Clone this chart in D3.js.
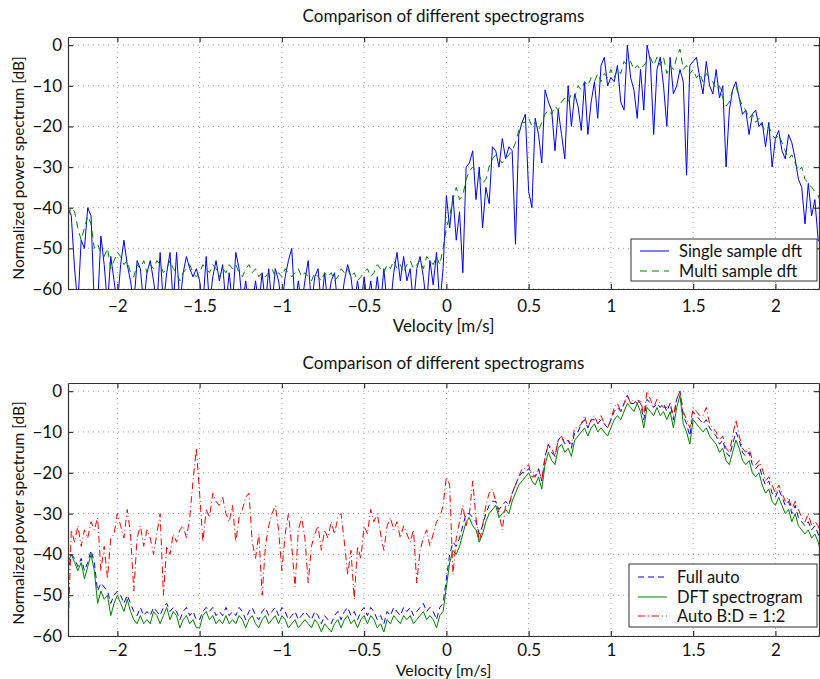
<!DOCTYPE html>
<html>
<head>
<meta charset="utf-8">
<script src="https://cdn.jsdelivr.net/npm/d3@7"></script>
<style>
    body { margin: 0; background: #fff; }
    text { font-family: Lato, "Open Sans", sans-serif; fill: #111; }
</style>
</head>
<body>
<script>
//velocity sampling of every spectrum (m/s)
var vStart = -2.3,
    vStep = 0.02;

//axis ticks
var xTicks = [-2, -1.5, -1, -0.5, 0, 0.5, 1, 1.5, 2];
var yTicks = [0, -10, -20, -30, -40, -50, -60];

//top panel: single sample dft (values under -60 dB leave the axes)
var singleDft = [
    -40,-42,-55,-64,-48,-50,-40,-42,-64,-64,
    -47,-54,-64,-52,-58,-64,-54,-48,-54,-58,
    -64,-53,-55,-64,-56,-53,-58,-64,-51,-64,
    -56,-51,-64,-51,-64,-56,-52,-55,-57,-55,
    -58,-64,-52,-64,-57,-53,-58,-54,-64,-56,
    -64,-51,-55,-64,-58,-64,-64,-58,-64,-56,
    -64,-55,-64,-55,-58,-64,-57,-53,-50,-64,
    -58,-64,-58,-53,-64,-57,-55,-64,-56,-64,
    -58,-56,-64,-64,-58,-54,-57,-64,-58,-64,
    -57,-64,-58,-64,-57,-64,-55,-64,-64,-56,
    -51,-58,-52,-58,-55,-64,-55,-52,-57,-64,
    -53,-59,-51,-64,-55,-37,
    -45,-37,-48,-41,-56,-30,-29,-26,-38,-30,
    -45,-35,-39,-25,-26,-30,-23,-28,-25,-26,
    -49,-22,-19,-17,-36,-40,-18,-22,-29,-11,
    -14,-16,-26,-16,-22,-28,-10,-20,-12,-15,
    -21,-9,-22,-14,-9,-18,-5,-3,-10,-8,
    -9,-5,-14,-16,0,-8,-11,-18,-6,-16,
    0,-4,-22,-6,-3,-10,-20,-3,-12,-10,
    -6,-9,-32,-5,-4,-3,-8,-12,-4,-10,
    -12,-6,-13,-10,-30,-16,-11,-9,-13,-17,
    -16,-22,-17,-16,-20,-19,-25,-19,-30,-23,
    -21,-26,-28,-22,-24,-28,-33,-35,-44,-34,
    -42,-38,-48,-49
];

//top panel: multi sample dft
var multiDft = [
    -42,-40,-41,-45,-48,-45,-42,-44,-50,-49,
    -51,-52,-50,-55,-53,-51,-52,-54,-53,-56,
    -57,-54,-55,-53,-56,-54,-55,-53,-54,-56,
    -55,-53,-55,-56,-58,-56,-55,-54,-56,-57,
    -56,-54,-55,-56,-54,-55,-57,-55,-56,-54,
    -55,-54,-56,-57,-55,-54,-56,-55,-57,-56,
    -57,-56,-55,-57,-56,-57,-55,-56,-57,-56,
    -55,-57,-56,-57,-58,-56,-57,-58,-56,-57,
    -56,-58,-57,-55,-56,-55,-57,-56,-58,-57,
    -56,-55,-57,-56,-54,-55,-56,-54,-55,-53,
    -55,-54,-56,-54,-53,-55,-54,-53,-55,-52,
    -53,-54,-52,-54,-50,-45,
    -42,-38,-35,-38,-37,-33,-31,-30,-31,-32,
    -34,-33,-30,-28,-27,-28,-29,-28,-27,-26,
    -24,-21,-19,-19,-18,-20,-19,-21,-19,-17,
    -16,-17,-15,-16,-14,-13,-14,-12,-13,-10,
    -11,-9,-10,-8,-9,-7,-9,-7,-8,-6,
    -8,-6,-7,-4,-5,-4,-6,-5,-6,-5,
    -4,-3,-5,-3,-5,-3,-7,-5,-6,-3,
    -1,-6,-5,-7,-6,-8,-7,-9,-7,-8,
    -9,-11,-10,-13,-15,-14,-11,-10,-13,-15,
    -16,-18,-17,-19,-18,-20,-21,-20,-22,-23,
    -22,-24,-26,-28,-27,-29,-31,-30,-33,-34,
    -35,-36,-37,-39
];

//bottom panel: full auto
var fullAuto = [
    -45,-40,-41,-43,-41,-44,-42,-39,-42,-49,
    -47,-48,-49,-52,-50,-49,-50,-52,-50,-52,
    -54,-55,-53,-55,-54,-55,-53,-54,-55,-53,
    -52,-54,-53,-54,-56,-54,-53,-55,-54,-56,
    -56,-54,-53,-54,-53,-55,-54,-55,-53,-55,
    -54,-55,-53,-54,-56,-54,-53,-55,-56,-54,
    -53,-55,-54,-53,-55,-53,-54,-56,-55,-54,
    -56,-55,-54,-55,-56,-54,-55,-57,-55,-56,
    -57,-55,-54,-56,-54,-53,-55,-54,-56,-54,
    -53,-55,-53,-54,-56,-55,-57,-54,-55,-53,
    -54,-55,-53,-54,-53,-55,-54,-53,-52,-54,
    -53,-54,-56,-53,-52,-46,
    -40,-37,-38,-36,-33,-30,-30,-31,-32,-35,
    -33,-30,-28,-27,-27,-29,-28,-27,-28,-25,
    -23,-21,-20,-20,-19,-20,-21,-19,-22,-16,
    -13,-15,-16,-12,-11,-13,-12,-14,-10,-10,
    -8,-7,-9,-7,-7,-8,-7,-8,-9,-7,
    -5,-4,-5,-3,-1,-3,-3,-2,-3,-7,
    -2,-3,-4,-3,-4,-3,-5,-3,-7,-2,
    0,-6,-8,-11,-5,-6,-7,-8,-7,-9,
    -10,-11,-13,-12,-15,-16,-13,-10,-12,-15,
    -16,-15,-18,-19,-18,-21,-23,-22,-25,-26,
    -24,-26,-28,-27,-30,-28,-31,-32,-33,-32,
    -34,-33,-35,-38
];

//bottom panel: DFT spectrogram
var dftSpectrogram = [
    -42,-40,-42,-44,-42,-46,-43,-40,-44,-52,
    -49,-51,-50,-55,-52,-50,-52,-54,-51,-54,
    -56,-57,-55,-57,-56,-57,-54,-55,-57,-55,
    -53,-56,-54,-55,-58,-56,-55,-57,-56,-58,
    -58,-55,-54,-56,-55,-57,-56,-57,-55,-57,
    -56,-57,-55,-56,-58,-56,-55,-57,-58,-56,
    -55,-57,-56,-55,-57,-55,-56,-58,-57,-56,
    -58,-57,-56,-57,-58,-56,-57,-59,-57,-58,
    -59,-57,-56,-58,-56,-55,-57,-56,-58,-56,
    -55,-57,-55,-56,-58,-57,-59,-56,-57,-55,
    -56,-57,-55,-56,-55,-57,-56,-55,-54,-56,
    -55,-56,-58,-55,-54,-48,
    -42,-39,-40,-38,-35,-32,-31,-33,-34,-37,
    -35,-32,-30,-29,-28,-31,-30,-29,-30,-27,
    -25,-23,-22,-21,-20,-22,-23,-21,-24,-18,
    -15,-17,-18,-14,-13,-15,-14,-16,-12,-11,
    -10,-9,-11,-9,-8,-10,-9,-10,-11,-9,
    -7,-6,-7,-5,-3,-4,-5,-3,-5,-9,
    -4,-5,-6,-4,-6,-5,-7,-5,-9,-4,
    -1,-8,-10,-13,-7,-8,-9,-10,-9,-11,
    -12,-13,-15,-14,-17,-18,-15,-12,-14,-17,
    -18,-17,-20,-21,-20,-23,-25,-24,-27,-28,
    -26,-28,-30,-29,-32,-30,-33,-34,-35,-34,
    -36,-35,-37,-40
];

//bottom panel: auto B:D = 1:2
var autoBD = [
    -60,-34,-37,-33,-38,-34,-36,-32,-34,-31,
    -44,-38,-46,-36,-35,-30,-33,-36,-29,-35,
    -49,-36,-33,-38,-34,-36,-40,-35,-30,-50,
    -38,-40,-35,-37,-34,-33,-36,-31,-22,-14,
    -25,-37,-29,-31,-25,-27,-28,-26,-30,-32,
    -28,-37,-31,-29,-26,-25,-37,-41,-35,-50,
    -38,-33,-30,-28,-34,-44,-35,-30,-38,-48,
    -34,-31,-36,-47,-38,-35,-33,-39,-34,-36,
    -32,-35,-31,-30,-37,-45,-39,-51,-38,-41,
    -33,-35,-29,-32,-30,-35,-39,-33,-31,-34,
    -32,-36,-33,-35,-37,-34,-47,-39,-36,-34,
    -38,-35,-32,-31,-28,-21,
    -23,-45,-36,-32,-28,-33,-30,-22,-31,-37,
    -33,-28,-25,-24,-27,-30,-34,-28,-28,-25,
    -23,-21,-19,-19,-18,-21,-21,-19,-22,-16,
    -13,-14,-16,-12,-11,-13,-12,-13,-9,-9,
    -8,-6,-9,-7,-6,-8,-6,-8,-9,-7,
    -4,-3,-5,-3,-1,-3,-2,-3,-2,-6,
    0,-2,-4,-2,-3,-4,-4,-3,-6,-2,
    0,-5,-7,-9,-4,-5,-6,-6,-4,-8,
    -9,-10,-12,-11,-14,-15,-11,-7,-11,-14,
    -15,-14,-17,-18,-17,-19,-22,-21,-23,-25,
    -23,-25,-27,-26,-29,-27,-29,-31,-32,-30,
    -33,-32,-33,-37
];

var titleText = "Comparison of different spectrograms",
    xLabelText = "Velocity [m/s]",
    yLabelText = "Normalized power spectrum [dB]";

window.onload = drawFigure();

function drawFigure(){
    var width = 820,
        height = 679,
        left = 68,
        right = 819;

    var svg = d3.select("body")
        .append("svg")
        .attr("width", width)
        .attr("height", height);

    //shared velocity scale
    var x = d3.scaleLinear()
        .domain([-2.3, 2.265])
        .range([left, right]);

    //top panel
    drawPanel(svg, x, "p1", {top: 37, bottom: 289, title: 22, xlab: 332, xlabSize: 17, tickPad: 11, ylab: 168}, [
        {name: "Single sample dft", values: singleDft, color: "#0000ff", dash: null},
        {name: "Multi sample dft", values: multiDft, color: "#008000", dash: "7,5"}
    ], {x: 631, y: 239, w: 186, h: 42, rows: [251, 271]});

    //bottom panel (the figure is cropped tight under it)
    drawPanel(svg, x, "p2", {top: 383, bottom: 636, title: 369, xlab: 675.5, xlabSize: 16, tickPad: 7.5, ylab: 513}, [
        {name: "Full auto", values: fullAuto, color: "#0000ff", dash: "6,4"},
        {name: "DFT spectrogram", values: dftSpectrogram, color: "#008000", dash: null},
        {name: "Auto B:D = 1:2", values: autoBD, color: "#ff0000", dash: "7,3,1,3"}
    ], {x: 629, y: 564, w: 188, h: 63, rows: [577, 597, 616]});
};

function drawPanel(svg, x, id, box, series, legend){
    var left = x.range()[0],
        right = x.range()[1],
        top = box.top,
        bottom = box.bottom;

    var y = d3.scaleLinear()
        .domain([-60, 2])
        .range([bottom, top]);

    var g = svg.append("g").attr("class", id);

    //clip lines to the axes box
    svg.append("clipPath")
        .attr("id", "clip-" + id)
        .append("rect")
        .attr("x", left)
        .attr("y", top)
        .attr("width", right - left)
        .attr("height", bottom - top);

    //dotted grid
    g.selectAll(".vgrid")
        .data(xTicks)
        .enter()
        .append("line")
        .attr("x1", function(d){ return x(d); })
        .attr("x2", function(d){ return x(d); })
        .attr("y1", top)
        .attr("y2", bottom)
        .attr("stroke", "#9a9a9a")
        .attr("stroke-width", 1)
        .attr("stroke-dasharray", "1,4");

    g.selectAll(".hgrid")
        .data(yTicks)
        .enter()
        .append("line")
        .attr("x1", left)
        .attr("x2", right)
        .attr("y1", function(d){ return y(d); })
        .attr("y2", function(d){ return y(d); })
        .attr("stroke", "#9a9a9a")
        .attr("stroke-width", 1)
        .attr("stroke-dasharray", "1,4");

    //spectra
    var line = d3.line()
        .x(function(d, i){ return x(vStart + i * vStep); })
        .y(function(d){ return y(d); });

    var lines = g.append("g").attr("clip-path", "url(#clip-" + id + ")");
    series.forEach(function(s){
        lines.append("path")
            .datum(s.values)
            .attr("fill", "none")
            .attr("stroke", s.color)
            .attr("stroke-width", 1)
            .attr("stroke-linejoin", "round")
            .attr("stroke-dasharray", s.dash)
            .attr("d", line);
    });

    //axes with inward ticks on all four sides
    var fmt = d3.format("");
    g.append("g")
        .attr("transform", "translate(0," + bottom + ")")
        .call(d3.axisBottom(x).tickValues(xTicks).tickFormat(fmt)
            .tickSizeInner(-5).tickSizeOuter(0).tickPadding(box.tickPad));
    g.append("g")
        .attr("transform", "translate(0," + top + ")")
        .call(d3.axisTop(x).tickValues(xTicks).tickFormat("")
            .tickSizeInner(-5).tickSizeOuter(0));
    g.append("g")
        .attr("transform", "translate(" + left + ",0)")
        .call(d3.axisLeft(y).tickValues(yTicks).tickFormat(fmt)
            .tickSizeInner(-5).tickSizeOuter(0).tickPadding(6));
    g.append("g")
        .attr("transform", "translate(" + right + ",0)")
        .call(d3.axisRight(y).tickValues(yTicks).tickFormat("")
            .tickSizeInner(-5).tickSizeOuter(0));

    g.selectAll(".domain, .tick line")
        .attr("stroke", "#333")
        .attr("stroke-width", 1.2);
    g.selectAll(".tick text")
        .attr("font-size", 17)
        .attr("font-family", "Lato, sans-serif")
        .attr("fill", "#111");

    //title and axis labels
    var cx = (left + right) / 2;
    g.append("text")
        .attr("x", cx)
        .attr("y", box.title)
        .attr("text-anchor", "middle")
        .attr("font-size", 17)
        .text(titleText);

    g.append("text")
        .attr("x", cx)
        .attr("y", box.xlab)
        .attr("text-anchor", "middle")
        .attr("font-size", box.xlabSize)
        .text(xLabelText);

    g.append("text")
        .attr("transform", "translate(24," + box.ylab + ") rotate(-90)")
        .attr("text-anchor", "middle")
        .attr("font-size", 15.5)
        .text(yLabelText);

    //legend box
    var lg = g.append("g");
    lg.append("rect")
        .attr("x", legend.x)
        .attr("y", legend.y)
        .attr("width", legend.w)
        .attr("height", legend.h)
        .attr("fill", "#fff")
        .attr("stroke", "#333")
        .attr("stroke-width", 1);

    series.forEach(function(s, i){
        var ry = legend.rows[i];
        lg.append("line")
            .attr("x1", legend.x + 9)
            .attr("x2", legend.x + 38)
            .attr("y1", ry)
            .attr("y2", ry)
            .attr("stroke", s.color)
            .attr("stroke-width", 1)
            .attr("stroke-dasharray", s.dash);
        lg.append("text")
            .attr("x", legend.x + 48)
            .attr("y", ry + 5.5)
            .attr("font-size", 16.5)
            .text(s.name);
    });
};
</script>
</body>
</html>
